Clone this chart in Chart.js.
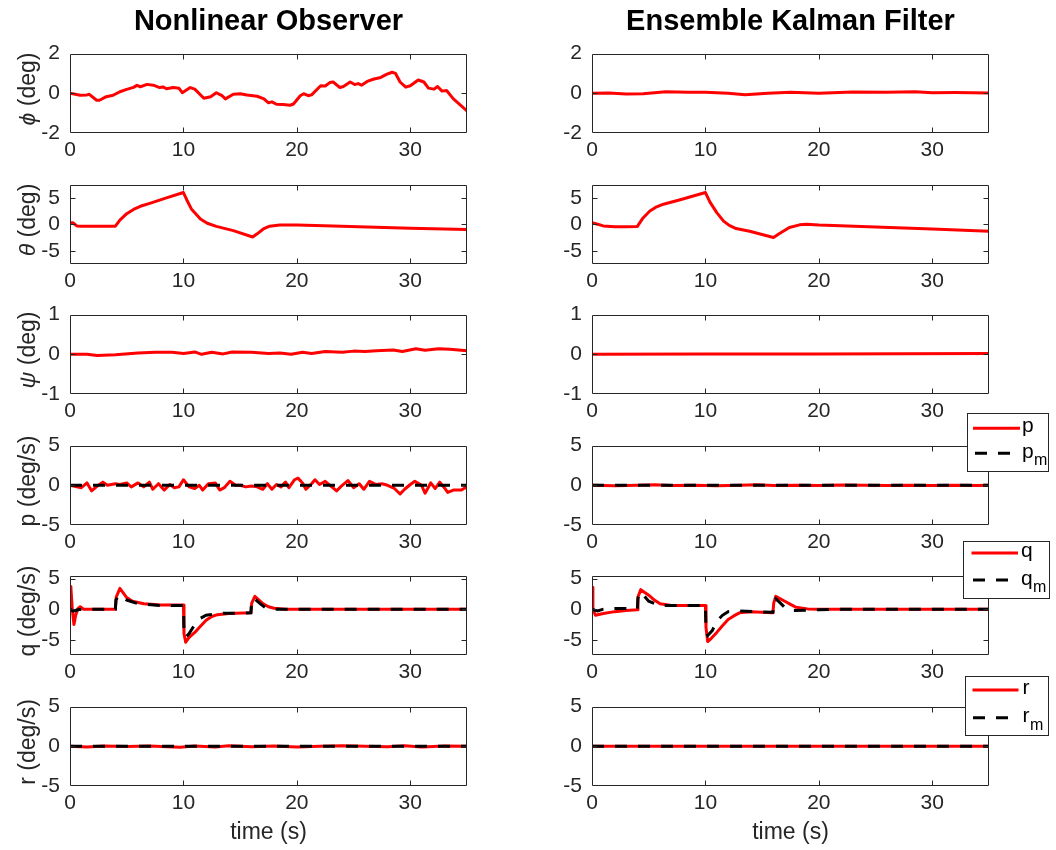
<!DOCTYPE html>
<html>
<head>
<meta charset="utf-8">
<title>Attitude and rate estimates</title>
<script src="https://cdn.jsdelivr.net/npm/chart.js@4.4.1/dist/chart.umd.min.js"></script>
<style>
  html, body { margin: 0; padding: 0; background: #fff; }
  #fig { position: relative; width: 1056px; height: 850px; overflow: hidden; background: #fff; }
  #fig canvas { position: absolute; }
  #overlay { position: absolute; left: 0; top: 0; pointer-events: none; }
</style>
</head>
<body>
<div id="fig">
  <svg id="overlay" width="1056" height="850" xmlns="http://www.w3.org/2000/svg"
       font-family="'Liberation Sans', Arial, Helvetica, sans-serif">
    <text x="268.5" y="30" text-anchor="middle" font-size="29" font-weight="bold" fill="#000">Nonlinear Observer</text>
    <text x="790.5" y="30" text-anchor="middle" font-size="29" font-weight="bold" fill="#000">Ensemble Kalman Filter</text>

    <g font-size="23" fill="#262626" text-anchor="middle">
      <text transform="translate(35,89) rotate(-90)"><tspan font-style="italic">ϕ</tspan> (deg)</text>
      <text transform="translate(35,220) rotate(-90)"><tspan font-style="italic">θ</tspan> (deg)</text>
      <text transform="translate(35,350) rotate(-90)"><tspan font-style="italic">ψ</tspan> (deg)</text>
      <text transform="translate(35,481) rotate(-90)">p (deg/s)</text>
      <text transform="translate(35,611) rotate(-90)">q (deg/s)</text>
      <text transform="translate(35,742) rotate(-90)">r (deg/s)</text>
      <text x="268.5" y="839">time (s)</text>
      <text x="790.5" y="839">time (s)</text>
    </g>

    <!-- legend: p -->
    <g>
      <rect x="967.5" y="413.5" width="81" height="58" fill="#fff" stroke="#262626" stroke-width="1"/>
      <line x1="973" y1="428.3" x2="1020" y2="428.3" stroke="#ff0000" stroke-width="3"/>
      <line x1="975" y1="453.3" x2="1020" y2="453.3" stroke="#000" stroke-width="3" stroke-dasharray="12 11"/>
      <text x="1022" y="432" font-size="21" fill="#000">p</text>
      <text x="1022" y="457.5" font-size="21" fill="#000">p</text>
      <text x="1034" y="465" font-size="16" fill="#000">m</text>
    </g>
    <!-- legend: q -->
    <g>
      <rect x="963.5" y="541.5" width="86" height="57" fill="#fff" stroke="#262626" stroke-width="1"/>
      <line x1="971.5" y1="553" x2="1018" y2="553" stroke="#ff0000" stroke-width="3"/>
      <line x1="973" y1="580" x2="1018" y2="580" stroke="#000" stroke-width="3" stroke-dasharray="12 11"/>
      <text x="1021" y="557" font-size="21" fill="#000">q</text>
      <text x="1021" y="584.5" font-size="21" fill="#000">q</text>
      <text x="1033" y="592" font-size="16" fill="#000">m</text>
    </g>
    <!-- legend: r -->
    <g>
      <rect x="965.5" y="676.5" width="83" height="59" fill="#fff" stroke="#262626" stroke-width="1"/>
      <line x1="972.5" y1="690" x2="1018.5" y2="690" stroke="#ff0000" stroke-width="3"/>
      <line x1="973" y1="717.7" x2="1018" y2="717.7" stroke="#000" stroke-width="3" stroke-dasharray="12 11"/>
      <text x="1022.5" y="694" font-size="21" fill="#000">r</text>
      <text x="1022.5" y="722" font-size="21" fill="#000">r</text>
      <text x="1030" y="729.5" font-size="16" fill="#000">m</text>
    </g>
  </svg>
</div>

<script>
// ---------------- data ----------------
// time axis ticks (s)
const xTicks = [0, 10, 20, 30];
const timeLimits = [0, 35];

// y-axis limits and tick labels per state
const phiLim = [-2, 2],      phiTicks = [-2, 0, 2];
const thetaLim = [-7.5, 7.5], thetaTicks = [-5, 0, 5];
const psiLim = [-1, 1],      psiTicks = [-1, 0, 1];
const pLim = [-5, 5],        pTicks = [-5, 0, 5];
const qLim = [-7.5, 5.5],    qTicks = [-5, 0, 5];
const rLim = [-5, 5],        rTicks = [-5, 0, 5];

// constant (zero) traces
const tSpan = [0, 35];
const zeroSpan = [0, 0];

// roll angle phi (deg)
const tPhiNLO = [0,0.9,1.5,1.7,2.35,2.6,3.2,3.8,4.4,5,5.6,5.9,6.2,6.8,7.35,7.9,8.2,8.5,9.1,9.6,9.9,10.6,11,11.8,12.4,12.9,13.4,13.7,14.4,15,15.6,16.5,17.1,17.5,17.8,18.2,18.8,19.4,19.7,20.3,20.6,21,21.3,22.1,22.5,22.9,23.2,23.8,24.1,24.7,25.1,25.4,25.7,26.2,26.8,27.4,27.9,28.4,28.7,29.1,29.6,30,30.7,31.2,31.6,32.1,32.4,32.8,33.2,33.8,34.4,35];
const phiNLO  = [0,-0.1,-0.08,-0.05,-0.35,-0.35,-0.17,-0.1,0.08,0.2,0.3,0.4,0.33,0.45,0.41,0.29,0.32,0.23,0.29,0.26,0.03,0.29,0.21,-0.25,-0.17,0.03,-0.12,-0.28,-0.05,-0.02,-0.09,-0.15,-0.28,-0.48,-0.43,-0.55,-0.57,-0.6,-0.54,-0.12,-0.02,-0.12,-0.08,0.38,0.37,0.54,0.57,0.29,0.34,0.57,0.44,0.49,0.41,0.6,0.72,0.8,0.95,1.06,1.0,0.57,0.31,0.38,0.67,0.57,0.26,0.21,0.34,0.11,0.14,-0.28,-0.58,-0.89];
const tPhiEnKF = [0,1.5,3,4.5,6.5,8.5,10,12,13.5,15.5,17.5,20,23,26,28.5,30,32,35];
const phiEnKF  = [0,0.01,-0.03,-0.02,0.08,0.05,0.05,0,-0.07,0,0.05,0,0.07,0.05,0.08,0.03,0.04,0.02];

// pitch angle theta (deg)
const tThetaNLO = [0,0.25,0.6,1,2,3,4,4.4,5,5.6,6.2,7.1,8.5,10,10.3,10.7,11.5,12.1,12.9,14.4,16.1,16.5,17.1,17.6,18.5,20,23.2,26.2,30,35];
const thetaNLO  = [0.3,0.3,-0.3,-0.35,-0.35,-0.35,-0.35,0.8,2.0,2.8,3.4,4.0,5.0,6.0,4.6,2.9,1.0,0.2,-0.4,-1.2,-2.4,-1.8,-0.8,-0.35,-0.15,-0.15,-0.3,-0.5,-0.75,-1.0];
const tThetaEnKF = [0,0.5,1,2,3,4,4.5,5.1,5.7,6.3,7.7,10,10.4,11,11.6,12.1,12.7,13.9,16,16.5,17.4,18.3,18.9,20,25,30,35];
const thetaEnKF  = [0.3,0,-0.3,-0.45,-0.45,-0.4,1.2,2.5,3.3,3.8,4.6,6.0,4.2,2.2,0.6,-0.2,-0.8,-1.3,-2.5,-1.8,-0.6,-0.1,0,-0.15,-0.5,-0.9,-1.3];

// yaw angle psi (deg)
const tPsiNLO = [0,1.5,2.4,4,6,7.5,9,10,11,11.6,12.5,13.5,14.3,16,17.5,18.5,19.5,20.5,21.3,22.5,24,25,26,27,28.5,29.3,30.5,31.3,32.5,33.5,35];
const psiNLO  = [0,0,-0.03,-0.01,0.03,0.05,0.05,0.02,0.06,0,0.05,0.01,0.06,0.05,0.02,0.03,0,0.05,0.02,0.07,0.05,0.08,0.07,0.09,0.11,0.07,0.14,0.1,0.14,0.13,0.09];
const tPsiEnKF = [0,10,20,35];
const psiEnKF  = [0,0.01,0.01,0.02];

// roll rate p (deg/s)
const tPNLO = [0,0.6,1,1.5,1.9,2.4,2.9,3.3,4,4.4,5,5.4,6,6.5,7,7.3,7.8,8.3,8.8,9.2,9.6,10,10.5,11,11.4,11.7,12.2,12.8,13.2,13.6,14.1,14.6,15,15.5,16,16.5,17,17.4,17.8,18.2,18.6,19,19.3,19.8,20.1,20.5,20.8,21.3,21.6,22,22.5,23,23.5,24,24.5,25,25.5,25.9,26.4,27,27.5,28,28.6,29.1,29.5,30,30.4,31,31.3,31.8,32.2,32.6,33,33.3,33.8,34.5,35];
const pNLO  = [0,-0.2,-0.3,0.3,-0.7,-0.1,0.4,0,0.2,0.1,0.3,-0.2,0.3,-0.2,0.4,-0.5,0.2,-0.6,0.1,-0.3,-0.2,0.7,-0.2,-0.4,0,-0.6,0.2,0.3,-0.6,-0.3,0.5,0,0,-0.2,-0.1,-0.2,-0.5,0.2,-0.5,0.1,-0.2,0.4,-0.3,0.7,0.9,0.3,-0.5,0.2,0.7,0.1,0.5,-0.1,-0.7,0,0.6,-0.3,0.2,-0.5,0.5,0.1,0.2,0,-0.4,-1.1,-0.5,0.1,0.5,0,-1.0,0.3,-0.4,0.4,-0.3,-0.9,-0.6,-0.6,-0.2];
const tPEnKF = [0,2,4,5.5,7,9,11,13,14.5,16,18,20,22,24,26,28,30,32,34,35];
const pEnKF  = [0,-0.05,0,0.08,-0.04,0.02,-0.06,0,0.07,-0.03,0.02,-0.02,0.03,0,-0.03,0.02,-0.04,0.01,-0.02,0];

// pitch rate q (deg/s)
const tQNLO = [0,0.08,0.2,0.35,0.5,0.7,0.9,1.2,4,4.08,4.4,5,5.5,6.5,8,10,10.05,10.2,10.5,11,11.5,12,12.5,13,14,15.95,16.02,16.3,17,17.5,18,19,35];
const qNLO  = [3.7,3.5,0,-2.5,-1.0,0.1,0.4,0,0,2.0,3.4,1.9,1.3,0.9,0.7,0.7,-4,-5.4,-4.6,-3.8,-2.8,-1.8,-1.2,-0.9,-0.7,-0.6,1.0,2.1,0.9,0.4,0.15,0,0];
const tQmNLO = [0,0.3,0.7,1,4,4.05,4.3,5,6,8,10,10.05,10.2,10.5,11,11.5,12,13,15.95,16.02,16.2,16.7,17.2,18,35];
const qmNLO  = [0,-0.3,-0.1,0,0,1.5,2.3,1.5,0.9,0.6,0.6,-3.5,-4.6,-4.0,-2.5,-1.5,-1.0,-0.7,-0.6,1.5,1.8,1.0,0.3,0,0];
const tQEnKF = [0,0.08,0.3,1,2,3,4,4.05,4.3,5,5.5,6,7,10,10.05,10.2,10.5,11,11.5,12,12.5,13,14,15.95,16.02,16.2,17,17.5,18,19,20,35];
const qEnKF  = [3.6,0,-1.0,-0.7,-0.4,-0.2,-0.1,2.0,3.2,2.3,1.5,0.9,0.6,0.6,-3.0,-5.3,-4.8,-3.8,-2.7,-1.7,-1.1,-0.6,-0.4,-0.6,1.0,2.1,1.3,0.8,0.3,0.05,0,0];
const tQmEnKF = [0,0.3,0.5,1,2,4,4.05,4.3,5,6,8,10,10.05,10.2,10.6,11,11.5,12,13,15.95,16.02,16.2,16.5,17,17.5,18,20,22,35];
const qmEnKF  = [0,-0.2,-0.3,0,0.1,0.1,1.8,2.8,1.3,0.6,0.6,0.6,-3.5,-4.3,-3.5,-2.0,-1.0,-0.4,-0.3,-0.5,1.0,1.7,1.2,0.3,-0.2,-0.2,-0.1,0,0];

// yaw rate r (deg/s)
const tRNLO = [0,1.5,3,5,7,9.7,11,12.8,14,16,18,20,22,24,26,28,29.5,31,33,35];
const rNLO  = [0,-0.08,0.03,-0.03,0.05,-0.12,0.04,-0.08,0.06,-0.05,0.03,-0.08,0.02,0.08,0,-0.05,0.06,-0.08,0.03,0];

// ---------------- layout ----------------
const FONT = '"Liberation Sans", Arial, Helvetica, sans-serif';
const AXIS_COLOR = '#262626';
const PLOT_W = 397, PLOT_H = 88;
const Y_AXIS_W = 66, X_AXIS_H = 34, PAD = 14;
const COL_LEFT = [70, 592];
const ROW_TOP = [45, 176, 306, 437, 567, 698];

const pts = (t, v) => t.map((x, i) => ({ x: x, y: v[i] }));
const est = (t, v) => ({ data: pts(t, v), borderColor: '#ff0000', borderWidth: 3, borderJoinStyle: 'round', order: 1 });
const meas = (t, v) => ({ data: pts(t, v), borderColor: '#000000', borderWidth: 3, borderDash: [12, 11], order: 0 });

const panels = [
  { row: 0, col: 0, lim: phiLim,   ticks: phiTicks,   sets: [est(tPhiNLO, phiNLO)] },
  { row: 0, col: 1, lim: phiLim,   ticks: phiTicks,   sets: [est(tPhiEnKF, phiEnKF)] },
  { row: 1, col: 0, lim: thetaLim, ticks: thetaTicks, sets: [est(tThetaNLO, thetaNLO)] },
  { row: 1, col: 1, lim: thetaLim, ticks: thetaTicks, sets: [est(tThetaEnKF, thetaEnKF)] },
  { row: 2, col: 0, lim: psiLim,   ticks: psiTicks,   sets: [est(tPsiNLO, psiNLO)] },
  { row: 2, col: 1, lim: psiLim,   ticks: psiTicks,   sets: [est(tPsiEnKF, psiEnKF)] },
  { row: 3, col: 0, lim: pLim,     ticks: pTicks,     sets: [est(tPNLO, pNLO), meas(tSpan, zeroSpan)] },
  { row: 3, col: 1, lim: pLim,     ticks: pTicks,     sets: [est(tPEnKF, pEnKF), meas(tSpan, zeroSpan)] },
  { row: 4, col: 0, lim: qLim,     ticks: qTicks,     sets: [est(tQNLO, qNLO), meas(tQmNLO, qmNLO)] },
  { row: 4, col: 1, lim: qLim,     ticks: qTicks,     sets: [est(tQEnKF, qEnKF), meas(tQmEnKF, qmEnKF)] },
  { row: 5, col: 0, lim: rLim,     ticks: rTicks,     sets: [est(tRNLO, rNLO), meas(tSpan, zeroSpan)] },
  { row: 5, col: 1, lim: rLim,     ticks: rTicks,     sets: [est(tSpan, zeroSpan), meas(tSpan, zeroSpan)] }
];

// box around each axes with inward tick marks on all four sides
const axesFrame = {
  id: 'axesFrame',
  afterDraw(chart) {
    const { ctx, chartArea: a, scales } = chart;
    const xs = scales.x, ys = scales.y;
    const L = Math.round(a.left) + 0.5, R = Math.round(a.right) - 0.5;
    const T = Math.round(a.top) + 0.5, B = Math.round(a.bottom) - 0.5;
    const len = 5;
    ctx.save();
    ctx.strokeStyle = AXIS_COLOR;
    ctx.lineWidth = 1;
    ctx.beginPath();
    ctx.rect(L, T, R - L, B - T);
    xs.ticks.forEach(tk => {
      const px = Math.round(xs.getPixelForValue(tk.value)) + 0.5;
      if (px <= L + 1 || px >= R - 1) return;
      ctx.moveTo(px, B); ctx.lineTo(px, B - len);
      ctx.moveTo(px, T); ctx.lineTo(px, T + len);
    });
    ys.ticks.forEach(tk => {
      const py = Math.round(ys.getPixelForValue(tk.value)) + 0.5;
      if (py <= T + 1 || py >= B - 1) return;
      ctx.moveTo(L, py); ctx.lineTo(L + len, py);
      ctx.moveTo(R, py); ctx.lineTo(R - len, py);
    });
    ctx.stroke();
    ctx.restore();
  }
};

const fig = document.getElementById('fig');
const overlay = document.getElementById('overlay');

panels.forEach(pn => {
  const cv = document.createElement('canvas');
  cv.width = Y_AXIS_W + PLOT_W + PAD;
  cv.height = PAD + PLOT_H + X_AXIS_H;
  cv.style.left = (COL_LEFT[pn.col] - Y_AXIS_W) + 'px';
  cv.style.top = (ROW_TOP[pn.row] - PAD) + 'px';
  fig.insertBefore(cv, overlay);

  new Chart(cv.getContext('2d'), {
    type: 'line',
    data: { datasets: pn.sets.map(s => Object.assign({ pointRadius: 0, tension: 0, fill: false }, s)) },
    options: {
      responsive: false,
      animation: false,
      devicePixelRatio: 1,
      events: [],
      layout: { padding: { top: PAD, right: PAD, left: 0, bottom: 0 } },
      plugins: { legend: { display: false }, tooltip: { enabled: false } },
      scales: {
        x: {
          type: 'linear',
          min: timeLimits[0], max: timeLimits[1],
          grid: { display: false, drawTicks: false },
          border: { display: false },
          afterBuildTicks: s => { s.ticks = xTicks.map(v => ({ value: v })); },
          afterFit: s => { s.height = X_AXIS_H; },
          ticks: { font: { family: FONT, size: 21 }, color: AXIS_COLOR, padding: 5,
                   maxRotation: 0, autoSkip: false, callback: v => String(v) }
        },
        y: {
          type: 'linear',
          min: pn.lim[0], max: pn.lim[1],
          grid: { display: false, drawTicks: false },
          border: { display: false },
          afterBuildTicks: s => { s.ticks = pn.ticks.map(v => ({ value: v })); },
          afterFit: s => { s.width = Y_AXIS_W; },
          ticks: { font: { family: FONT, size: 21 }, color: AXIS_COLOR, padding: 10,
                   autoSkip: false, callback: v => String(v) }
        }
      }
    },
    plugins: [axesFrame]
  });
});
</script>
</body>
</html>
